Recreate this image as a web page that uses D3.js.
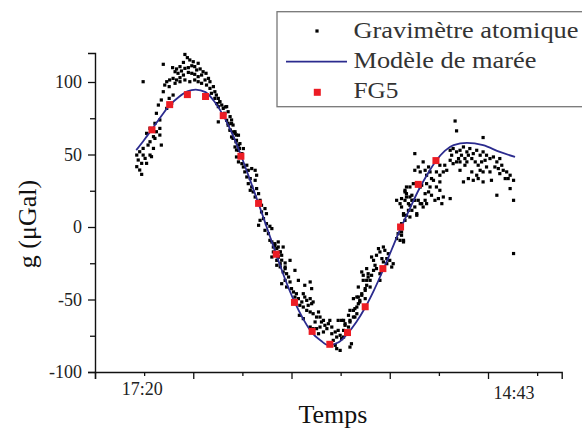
<!DOCTYPE html>
<html>
<head>
<meta charset="utf-8">
<script src="https://cdn.jsdelivr.net/npm/d3@7"></script>
<style>
  html, body { margin: 0; padding: 0; background: #fff; }
  svg { display: block; }
  text { font-family: "Liberation Serif", "Times New Roman", serif; }
</style>
</head>
<body>
<svg id="chart" width="582" height="428"></svg>
<script>
// ---- DATA ----
// time axis in "tick units" (one unit = one minor tick interval)
const xTickLabels = ["17:20", "14:43"];
const xTickLabelAt = [0.96, 8.53];
const yTicksMajor = [-100, -50, 0, 50, 100];
const yTicksMinor = [-75, -25, 25, 75];

// Modèle de marée (tidal model)
const modelPoints = [
  [0.84,53],[1.0,60],[1.16,67.5],[1.34,76],[1.52,84],[1.7,89.5],[1.88,93.5],[2.05,94.8],
  [2.25,93],[2.43,86.5],[2.61,77],[2.79,64.5],[2.97,49.5],[3.15,33],[3.33,16],[3.51,-1.5],
  [3.69,-19],[3.87,-36],[4.06,-51.5],[4.24,-63.5],[4.42,-73],[4.6,-78.5],[4.75,-81.5],
  [4.96,-79.5],[5.14,-73.5],[5.32,-65.5],[5.5,-55.5],[5.68,-43.5],[5.86,-30],[6.04,-15.5],
  [6.22,-1],[6.4,12],[6.58,25],[6.76,36],[6.94,45.5],[7.12,52.5],[7.3,56.4],[7.57,58],
  [7.9,56.4],[8.24,51.8],[8.55,48.3]
];

// FG5 measurements
const fg5Points = [
  [1.16,67],[1.52,84.4],[1.88,91.3],[2.25,90],[2.61,76.8],[2.97,48.8],[3.33,16.3],
  [3.69,-18.8],[4.06,-52],[4.42,-72],[4.78,-80.9],[5.14,-72.8],[5.50,-55],[5.86,-28.7],
  [6.22,0],[6.58,29.4],[6.94,45.8]
];

// Gravimètre atomique
const atomPoints = [
  [1.83,119],[1.88,116.8],[1.93,115.2],[2.0,114],[2.10,112.9],[1.80,113.5],[1.73,110.6],[1.66,109],
  [1.58,109.9],[1.63,107.1],[1.69,106],[1.76,107.6],[1.83,109.4],[1.90,109.9],[1.97,111.2],[2.03,110.6],
  [2.07,108.3],[2.14,109],[2.20,107.1],[2.26,106],[2.17,104.8],[2.10,103.7],[2.03,105.3],[1.97,106],
  [1.90,106.6],[1.80,104.8],[1.73,103],[1.66,101.4],[1.59,102.5],[1.52,101.4],[1.46,100.2],[1.42,97.9],
  [1.51,96.8],[1.63,99.1],[1.73,100.2],[1.83,101.4],[1.93,100.2],[2.03,101.4],[2.10,100.2],[2.17,99.1],
  [2.24,101.4],[2.31,102.5],[2.34,100.2],[2.27,97.9],[2.34,95.6],[2.41,96.8],[2.44,93.3],[2.37,92.2],
  [2.47,91],[2.51,88.7],[2.44,88.7],[2.54,86.4],[2.58,84.1],[2.51,83],[2.61,81.8],[2.68,83],
  [2.71,79.5],[2.64,78.4],[2.75,76.1],[2.78,73.8],[2.71,71.5],[2.81,70.3],[2.75,66.9],[2.85,65.7],
  [2.88,63.4],[2.81,61.1],[2.87,58.8],[2.92,56.5],[2.88,53.1],[2.94,54.2],[1.39,112.2],[0.98,100.2],
  [1.39,93.3],[1.35,87.6],[1.29,84.1],[1.46,81.8],[1.25,78.4],[1.32,73.8],[1.22,71.5],[1.32,68],
  [1.25,65.7],[1.19,62.3],[1.12,58.8],[1.22,61.1],[1.32,63.4],[1.35,56.5],[1.19,54.2],[1.08,56.5],
  [0.98,54.2],[0.91,51.9],[0.85,49.6],[0.88,46.2],[0.95,43.9],[0.85,41.6],[0.91,39.3],[0.95,36.3],
  [1.02,47.3],[1.12,49.6],[1.05,43.9],[1.15,48.5],[0.98,49.6],[1.56,85.3],[1.59,91],[1.51,88.7],
  [1.12,68],[1.05,64.6],
  [2.48,85.1],[2.54,86.3],[2.65,82.8],[2.51,72.5],[2.68,73.6],[2.71,70.2],[2.78,71.3],[2.75,66.7],
  [2.82,65.6],[2.85,64.4],[2.78,62.1],[2.88,59.8],[2.92,63.3],[2.95,57.5],[2.85,55.2],[2.92,52.9],
  [3.02,54.1],[2.99,50.6],[2.88,48.3],[2.92,44.9],[2.99,43.7],[3.02,41.4],[3.09,42.6],[3.12,39.1],
  [3.19,40.3],[3.26,39.1],[3.05,38],[3.09,34.5],[3.16,33.4],[3.26,32.2],[3.29,35.7],[3.12,29.9],
  [3.19,27.6],[3.16,25.3],[3.22,24.2],[3.29,26.5],[3.26,20.7],[3.33,23],[3.36,18.4],[3.39,15],
  [3.46,12.7],[3.39,10.4],[3.49,9.2],[3.43,5.8],[3.36,4.6],[3.33,1.2],[3.49,2.3],[3.56,0.5],
  [3.60,-1.1],[3.46,-2.3],[3.53,-4.6],[3.56,-9.2],[3.66,-11.5],[3.73,-10.3],[3.63,-13.8],[3.70,-14.9],
  [3.77,-17.2],[3.73,-20.6],[3.80,-22.9],[3.87,-24.8],[3.70,-26.4],[3.77,-27.5],[3.87,-28.7],
  [3.60,-10.3],[3.66,-12.7],[3.73,-13.8],[3.77,-17.2],[3.80,-19.5],[3.70,-23],[3.77,-25.3],[3.87,-27.6],
  [3.83,-31],[3.90,-32.2],[3.94,-34.5],[3.87,-36.8],[3.97,-37.9],[3.80,-39.1],[3.90,-41.4],[4.00,-42.5],
  [4.04,-44.8],[4.10,-46],[4.07,-48.3],[4.14,-49.4],[4.24,-46],[4.27,-48.3],[4.21,-51.7],[4.31,-50.6],
  [4.38,-49.4],[4.41,-52.9],[4.34,-54],[4.44,-51.7],[4.24,-55.2],[4.17,-54],[4.31,-57.5],[4.38,-58.6],
  [4.44,-59.8],[4.51,-62.1],[4.55,-58.6],[4.58,-62.1],[4.48,-65.5],[4.61,-65.5],[4.65,-64.4],[4.68,-67.8],
  [4.75,-66.7],[4.78,-64.4],[4.72,-70.1],[4.82,-69],[4.58,-69],[4.51,-70.1],[4.44,-70.1],[4.55,-73.6],
  [4.65,-72.4],[4.82,-73.6],[4.89,-72.4],[4.95,-71.3],[4.99,-74.7],[4.92,-75.9],[5.02,-77],[4.85,-78.2],
  [4.89,-81.6],[4.92,-83.9],[4.99,-85.1],[5.19,-82.8],[5.22,-80.5],[5.09,-66.7],[5.19,-64.4],[5.16,-60.9],
  [5.29,-62.1],[5.26,-57.5],[5.33,-55.2],[5.39,-51.7],[5.36,-48.3],[5.43,-46],[5.50,-42.5],[5.53,-36.8],
  [5.56,-32.2],[5.46,-33.3],[5.53,-28.7],[4.27,-40.2],[4.38,-37.9],[4.41,-42.5],[4.14,-36.8],[4.07,-29.9],
  [3.97,-23],[3.73,-20.7],[3.63,-17.2],[3.83,-13.8],[3.60,-20.7],[5.06,-64.4],[4.95,-64.4],[4.38,-69],
  [4.24,-63.2],[4.16,-60.9],
  [5.02,-64.4],[5.09,-67.8],[5.16,-69],[5.06,-71.3],[5.19,-65.5],[5.26,-62.1],[5.33,-59.8],[5.29,-56.3],
  [5.36,-52.9],[5.39,-50.6],[5.33,-48.3],[5.43,-47.1],[5.50,-43.7],[5.53,-40.2],[5.60,-36.8],[5.46,-36.8],
  [5.56,-34.5],[5.63,-33.3],[5.67,-29.9],[5.73,-28.7],[5.70,-26.4],[5.67,-23],[5.63,-20.7],[5.73,-19.5],
  [5.80,-17.2],[5.77,-14.9],[5.87,-13.8],[5.90,-16.1],[5.97,-18.4],[5.94,-21.8],[6.00,-23],[6.07,-25.3],
  [6.04,-27.6],[5.87,-24.1],[5.84,-21.8],[5.94,-25.3],[5.80,-32.2],[5.80,-36.8],[6.17,-4.6],[6.24,-5.7],
  [6.21,-9.2],[6.28,-10.3],[6.14,-8],[6.24,2.3],[6.31,4.6],[6.34,8.1],[6.28,9.2],[6.38,11.5],
  [6.41,15],[6.45,18.4],[6.34,20.7],[6.31,25.3],[6.41,27.6],[6.45,21.9],[6.51,18.4],[6.55,9.2],
  [6.62,16.1],[6.68,13.8],[6.75,16.1],[6.65,28.8],[6.72,23],[6.14,18.4],[6.24,19.6],[6.34,23],
  [6.21,16.1],[6.41,6.9],[5.43,-31],[5.36,-41.4],[5.26,-49.4],[5.50,-49.4],[5.60,-41.4],[5.19,-57.5],
  [5.06,-75.9],
  [7.33,73.1],[7.36,66.3],[7.90,61.7],[6.51,50.6],[6.68,44.9],[6.58,41.4],[6.51,39.1],[6.62,38],
  [6.72,39.1],[6.79,41.4],[6.82,38],[6.75,35.7],[6.85,33.4],[6.95,38],[7.02,35.7],[7.09,38],
  [7.16,39.1],[7.12,42.6],[7.02,42.6],[7.23,52.9],[7.29,54.1],[7.26,49.5],[7.36,51.8],[7.43,52.9],
  [7.50,55.2],[7.46,49.5],[7.57,51.8],[7.63,54.1],[7.60,49.5],[7.53,47.2],[7.67,47.2],[7.70,50.6],
  [7.77,52.9],[7.84,49.5],[7.90,51.8],[7.97,49.5],[7.94,46],[7.87,44.9],[7.80,42.6],[7.74,44.9],
  [8.04,47.2],[8.11,48.3],[8.18,44.9],[8.24,47.2],[8.14,41.4],[8.21,40.3],[8.28,42.6],[8.31,39.1],
  [8.38,38],[8.45,35.7],[8.41,33.4],[8.52,32.2],[8.35,33.4],[8.24,36.8],[8.04,38],[7.97,41.4],
  [7.90,38],[7.84,39.1],[7.77,35.7],[7.67,38],[7.60,33.4],[7.70,32.2],[7.80,33.4],[7.43,39.1],
  [7.50,31.1],[7.36,44.9],[7.29,43.7],[7.23,46],[8.52,18.4],[8.18,21.9],[8.07,32.2],[8.45,26.5],
  [6.34,27.6],[6.31,24.2],[6.41,20.7],[6.48,18.4],[6.38,16.1],[6.45,11.5],[6.28,8.1],[6.58,18.4],
  [6.65,16.1],[6.72,18.4],[6.79,24.2],[6.82,27.6],[6.85,21.9],[6.92,18.4],[6.99,19.6],[7.02,25.3],
  [7.06,16.1],[7.23,19.6],[7.09,20.7],[6.24,-3.4],[6.28,-9.2],[8.52,-18.3],[6.62,27.6],[6.48,29.9],
  [6.75,29.9],[7.02,31.1],[6.31,18.4],[6.24,13.8],[6.55,8.1],[6.51,13.8],[6.89,32.2],[6.95,27.6],
  [7.53,42.6],[7.43,44.9],[7.90,31.1],[7.57,44.9],[7.40,47.2]
];

const legendLabels = ["Gravimètre atomique", "Modèle de marée", "FG5"];

// ---- CHART ----
const svg = d3.select("#chart");
svg.append("rect").attr("width", 582).attr("height", 428).attr("fill", "#fff");

const x = d3.scaleLinear().domain([0, 9.5]).range([95, 561.7]);
const y = d3.scaleLinear().domain([-100, 120]).range([372, 53]);

// x axis: major ticks at even units, minor at odd units
const xAxisMajor = d3.axisBottom(x).tickValues([0, 2, 4, 6, 8]).tickSize(7).tickFormat("");
const xAxisMinor = d3.axisBottom(x).tickValues([1, 3, 5, 7, 9]).tickSize(4).tickFormat("");
const gx1 = svg.append("g").attr("transform", "translate(0,372)").call(xAxisMajor);
const gx2 = svg.append("g").attr("transform", "translate(0,372)").call(xAxisMinor);
gx2.select(".domain").remove();

// y axis
const yAxisMajor = d3.axisLeft(y).tickValues(yTicksMajor).tickSize(7).tickPadding(6)
  .tickFormat(d => d3.format("d")(d).replace("−", "-"));
const yAxisMinor = d3.axisLeft(y).tickValues(yTicksMinor).tickSize(5).tickFormat("");
const gy1 = svg.append("g").attr("transform", "translate(95,0)").call(yAxisMajor);
const gy2 = svg.append("g").attr("transform", "translate(95,0)").call(yAxisMinor);
gy2.select(".domain").remove();

[gx1, gx2, gy1, gy2].forEach(g => {
  g.attr("font-family", null);
  g.selectAll(".domain").attr("stroke", "#111").attr("stroke-width", 1.4);
  g.selectAll(".tick line").attr("stroke", "#111").attr("stroke-width", 1.3);
});
gy1.selectAll(".tick text")
  .attr("font-size", 18).attr("fill", "#222");

// x tick labels (start / end time)
svg.append("g").selectAll("text").data(xTickLabels).join("text")
  .attr("x", (d, i) => x(xTickLabelAt[i]))
  .attr("y", (d, i) => i === 0 ? 395 : 398.5)
  .attr("text-anchor", "middle")
  .attr("font-size", 18).attr("fill", "#222")
  .text(d => d);

// axis titles
svg.append("text").attr("x", 333).attr("y", 423).attr("text-anchor", "middle")
  .attr("font-size", 26).attr("fill", "#111").text("Temps");
svg.append("text").attr("transform", "translate(36,224) rotate(-90)")
  .attr("text-anchor", "middle").attr("font-size", 26).attr("fill", "#111").text("g (μGal)");

// scatter
svg.append("g").selectAll("rect").data(atomPoints).join("rect")
  .attr("x", d => x(d[0]) - 1.6).attr("y", d => y(d[1]) - 1.6)
  .attr("width", 3.2).attr("height", 3.2).attr("fill", "#000");

// model line
const line = d3.line().x(d => x(d[0])).y(d => y(d[1])).curve(d3.curveMonotoneX);
svg.append("path").datum(modelPoints).attr("d", line)
  .attr("fill", "none").attr("stroke", "#2b2b8e").attr("stroke-width", 1.8);

// FG5
svg.append("g").selectAll("rect").data(fg5Points).join("rect")
  .attr("x", d => x(d[0]) - 3.5).attr("y", d => y(d[1]) - 3.5)
  .attr("width", 7).attr("height", 7).attr("fill", "#ec1c24");

// legend
const lg = svg.append("g");
lg.append("rect").attr("x", 277).attr("y", 11.7).attr("width", 320).attr("height", 95)
  .attr("fill", "#fff").attr("stroke", "#777").attr("stroke-width", 1.3);
lg.append("rect").attr("x", 315.4).attr("y", 29.4).attr("width", 3.2).attr("height", 3.2).attr("fill", "#000");
lg.append("line").attr("x1", 286).attr("x2", 347).attr("y1", 61.7).attr("y2", 61.7)
  .attr("stroke", "#2b2b8e").attr("stroke-width", 1.8);
lg.append("rect").attr("x", 313.8).attr("y", 88.8).attr("width", 7).attr("height", 7).attr("fill", "#ec1c24");
const legendWidths = [225, 183, 45];
lg.selectAll("text.lab").data(legendLabels).join("text").attr("class", "lab")
  .attr("x", 353.5).attr("y", (d, i) => 38.3 + i * 30)
  .attr("font-size", 23).attr("fill", "#333")
  .attr("textLength", (d, i) => legendWidths[i]).attr("lengthAdjust", "spacingAndGlyphs")
  .text(d => d);
</script>
</body>
</html>
